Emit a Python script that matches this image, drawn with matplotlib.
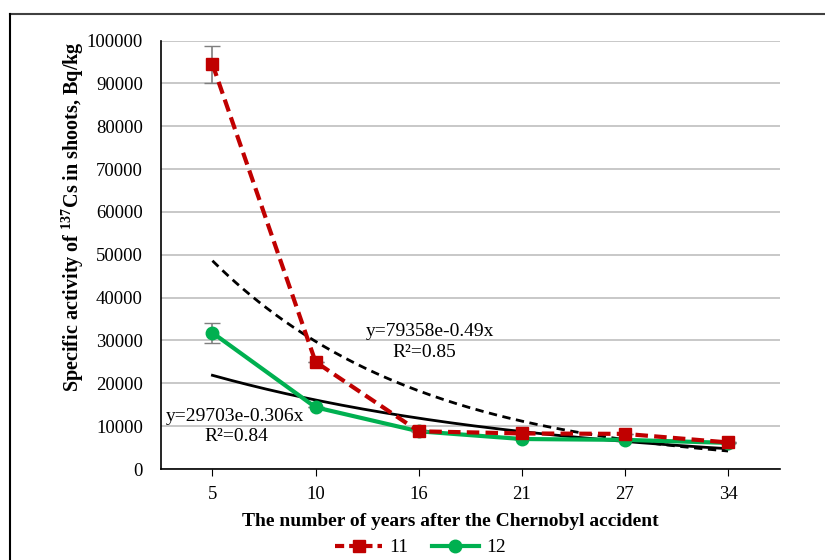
import numpy as np
import matplotlib
matplotlib.use("Agg")
import matplotlib.pyplot as plt
from matplotlib.lines import Line2D

plt.rcParams['font.family'] = ['Liberation Serif', 'DejaVu Serif']
plt.rcParams['mathtext.fontset'] = 'custom'
plt.rcParams['mathtext.rm'] = 'Liberation Serif'
plt.rcParams['mathtext.bf'] = 'Liberation Serif:bold'

categories = ['5', '10', '16', '21', '27', '34']
series11 = [94500, 25000, 8800, 8300, 8200, 6200]
series12 = [31800, 14400, 8800, 7000, 6800, 6100]
err11 = [4300, 0, 0, 0, 0, 0]
err12 = [2300, 0, 0, 0, 0, 0]
trend11 = (79358, -0.49)
trend12 = (29703, -0.306)

red = '#C00000'
green = '#00B050'

fig = plt.figure(figsize=(8.25, 5.6), dpi=100)
ax = fig.add_axes([0.195, 0.1625, 0.75, 0.765])

x = np.arange(1, len(categories) + 1)

ax.set_ylim(0, 100000)
ax.set_xlim(0.5, len(categories) + 0.5)
ax.set_yticks(np.arange(0, 100001, 10000))
ax.yaxis.grid(True, color='#BFBFBF', linewidth=1.2)
ax.set_axisbelow(True)

# trend lines
xt = np.linspace(1, len(categories), 200)
ax.plot(xt, trend11[0] * np.exp(trend11[1] * xt), color='black', linestyle=(0, (3, 2)), linewidth=2, zorder=2)
ax.plot(xt, trend12[0] * np.exp(trend12[1] * xt), color='black', linestyle='-', linewidth=2, zorder=2)

# series
ax.errorbar(x, series11, yerr=err11, color=red, ecolor='#7F7F7F', elinewidth=1.2, capsize=6,
            linestyle=(0, (3, 1.5)), linewidth=3, marker='s', markersize=9, zorder=4)
ax.errorbar(x, series12, yerr=err12, color=green, ecolor='#7F7F7F', elinewidth=1.2, capsize=6,
            linestyle='-', linewidth=3, marker='o', markersize=9, zorder=3)

# annotations
ax.text(3.11, 32000, 'y=79358e-0.49x', ha='center', va='center', fontsize=14)
ax.text(3.05, 27100, 'R²=0.85', ha='center', va='center', fontsize=14)
ax.text(1.22, 12200, 'y=29703e-0.306x', ha='center', va='center', fontsize=14)
ax.text(1.23, 7500, 'R²=0.84', ha='center', va='center', fontsize=14)

ax.set_xticks(x)
ax.set_xticklabels(categories)
ax.tick_params(axis='x', labelsize=13.5, length=5, color='black', pad=7)
ax.tick_params(axis='y', labelsize=13.5, length=0, pad=13)

for s in ['top', 'right']:
    ax.spines[s].set_visible(False)
ax.spines['left'].set_color('black')
ax.spines['bottom'].set_color('black')
ax.spines['left'].set_linewidth(1.2)
ax.spines['bottom'].set_linewidth(1.2)

ax.set_xlabel('The number of years after the Chernobyl accident', fontsize=14, fontweight='bold')
ax.xaxis.set_label_coords(0.467, -0.102)
ax.set_ylabel(r'Specific activity of $^{\mathbf{137}}$Cs in shoots, Bq/kg', fontsize=14.5, fontweight='bold')
ax.yaxis.set_label_coords(-0.121, 0.588)

handles = [Line2D([0], [0], color=red, linestyle=(0, (2.2, 1.2)), linewidth=3, marker='s', markersize=9),
           Line2D([0], [0], color=green, linestyle='-', linewidth=3, marker='o', markersize=9)]
fig.legend(handles, ['11', '12'], loc='center', bbox_to_anchor=(0.51, 0.022), ncol=2, frameon=False,
           fontsize=14, handlelength=2.4, columnspacing=1.2, handletextpad=0.4)

# outer frame (top and left)
fig.add_artist(Line2D([0.012, 1.0], [0.975, 0.975], color='#404040', linewidth=1.5, transform=fig.transFigure))
fig.add_artist(Line2D([0.012, 0.012], [0.0, 0.975], color='black', linewidth=1.5, transform=fig.transFigure))

fig.savefig('out.png', dpi=100)
